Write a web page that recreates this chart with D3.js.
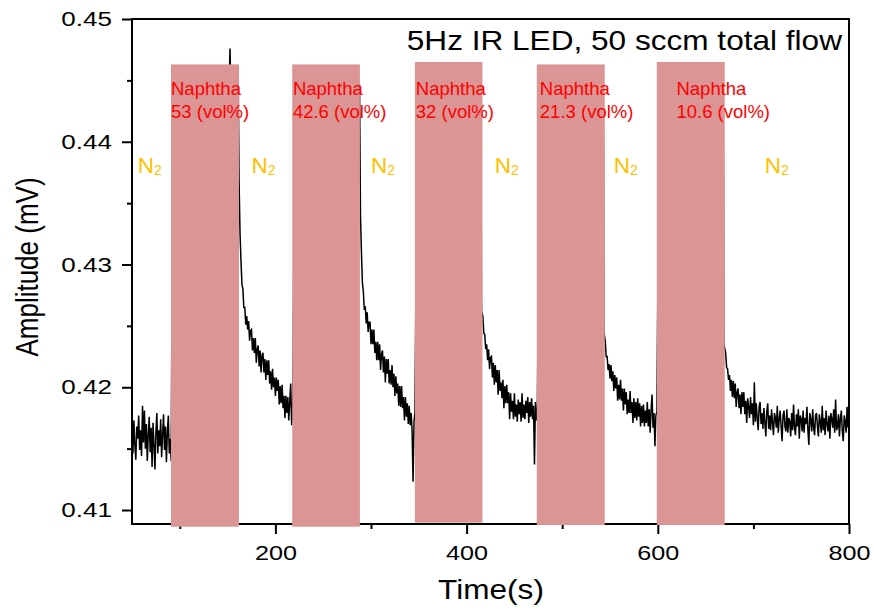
<!DOCTYPE html>
<html>
<head>
<meta charset="utf-8">
<script src="https://cdn.jsdelivr.net/npm/d3@7"></script>
<style>
  body { margin: 0; background: #fff; }
  text { font-family: "Liberation Sans", Arial, sans-serif; }
</style>
</head>
<body>
<svg id="chart" width="874" height="611"></svg>
<script>
// Axis ranges and ticks.
const xDomain = [50, 800];
const yDomain = [0.40886, 0.45];
const xMajor = [200, 400, 600, 800];
const xMinor = [100, 300, 500, 700];
const yMajor = [0.41, 0.42, 0.43, 0.44, 0.45];
const yMinor = [0.415, 0.425, 0.435, 0.445];

// N2 purge segments, one sample per second from each start time.
const purgeStart = [50, 162, 289, 417, 545, 671];
const purge0 = [0.4164, 0.4146, 0.4173, 0.4153, 0.4141, 0.4168, 0.4158, 0.4177, 0.4149, 0.4165,
  0.4144, 0.4185, 0.4155, 0.4181, 0.4150, 0.4170, 0.4140, 0.4161, 0.4176, 0.4147,
  0.4167, 0.4135, 0.4171, 0.4153, 0.4133, 0.4163, 0.4179, 0.4146, 0.4165, 0.4152,
  0.4174, 0.4143, 0.4161, 0.4178, 0.4149, 0.4168, 0.4139, 0.4164, 0.4177, 0.4146,
  0.4158, 0.4140];
const purge1 = [0.4368, 0.4325, 0.4303, 0.4284, 0.4280, 0.4265, 0.4265, 0.4251, 0.4258, 0.4247,
  0.4254, 0.4238, 0.4246, 0.4247, 0.4230, 0.4240, 0.4228, 0.4240, 0.4220, 0.4231,
  0.4234, 0.4217, 0.4230, 0.4212, 0.4226, 0.4228, 0.4212, 0.4223, 0.4206, 0.4222,
  0.4210, 0.4222, 0.4203, 0.4213, 0.4198, 0.4215, 0.4200, 0.4208, 0.4193, 0.4208,
  0.4197, 0.4206, 0.4186, 0.4201, 0.4187, 0.4202, 0.4183, 0.4193, 0.4175, 0.4193,
  0.4179, 0.4192, 0.4173, 0.4188, 0.4203, 0.4169];
const purge2 = [0.4340, 0.4310, 0.4285, 0.4278, 0.4263, 0.4266, 0.4252, 0.4261, 0.4245, 0.4253,
  0.4253, 0.4235, 0.4247, 0.4235, 0.4247, 0.4228, 0.4237, 0.4222, 0.4237, 0.4222,
  0.4235, 0.4214, 0.4227, 0.4230, 0.4212, 0.4225, 0.4204, 0.4223, 0.4211, 0.4223,
  0.4203, 0.4214, 0.4202, 0.4218, 0.4200, 0.4211, 0.4193, 0.4209, 0.4195, 0.4203,
  0.4185, 0.4201, 0.4184, 0.4201, 0.4183, 0.4192, 0.4173, 0.4192, 0.4176, 0.4187,
  0.4170, 0.4185, 0.4169, 0.4179, 0.4164, 0.4123, 0.4172];
const purge3 = [0.4258, 0.4244, 0.4243, 0.4231, 0.4235, 0.4222, 0.4231, 0.4215, 0.4224, 0.4225,
  0.4208, 0.4220, 0.4202, 0.4218, 0.4204, 0.4214, 0.4194, 0.4214, 0.4197, 0.4204,
  0.4191, 0.4206, 0.4183, 0.4201, 0.4187, 0.4202, 0.4187, 0.4196, 0.4174, 0.4195,
  0.4180, 0.4189, 0.4174, 0.4195, 0.4176, 0.4186, 0.4172, 0.4190, 0.4178, 0.4188,
  0.4172, 0.4195, 0.4175, 0.4186, 0.4174, 0.4189, 0.4179, 0.4192, 0.4171, 0.4188,
  0.4176, 0.4191, 0.4174, 0.4185, 0.4137, 0.4188, 0.4173];
const purge4 = [0.4238, 0.4225, 0.4225, 0.4214, 0.4219, 0.4207, 0.4218, 0.4205, 0.4213, 0.4197,
  0.4210, 0.4199, 0.4208, 0.4189, 0.4202, 0.4190, 0.4206, 0.4189, 0.4199, 0.4181,
  0.4199, 0.4186, 0.4196, 0.4178, 0.4190, 0.4179, 0.4197, 0.4179, 0.4188, 0.4171,
  0.4191, 0.4175, 0.4188, 0.4173, 0.4191, 0.4176, 0.4187, 0.4168, 0.4185, 0.4171,
  0.4186, 0.4168, 0.4181, 0.4171, 0.4188, 0.4168, 0.4182, 0.4163, 0.4182, 0.4194,
  0.4167, 0.4179, 0.4152, 0.4177];
const purge5 = [0.4228, 0.4216, 0.4215, 0.4206, 0.4210, 0.4197, 0.4206, 0.4192, 0.4205, 0.4191,
  0.4203, 0.4184, 0.4196, 0.4199, 0.4183, 0.4194, 0.4178, 0.4196, 0.4184, 0.4196,
  0.4178, 0.4189, 0.4171, 0.4191, 0.4184, 0.4175, 0.4192, 0.4178, 0.4187, 0.4169,
  0.4204, 0.4172, 0.4187, 0.4175, 0.4165, 0.4184, 0.4188, 0.4170, 0.4179, 0.4166,
  0.4183, 0.4171, 0.4160, 0.4180, 0.4187, 0.4166, 0.4177, 0.4165, 0.4182, 0.4171,
  0.4161, 0.4179, 0.4175, 0.4167, 0.4185, 0.4163, 0.4174, 0.4181, 0.4168, 0.4156,
  0.4177, 0.4181, 0.4168, 0.4164, 0.4182, 0.4163, 0.4175, 0.4172, 0.4160, 0.4179,
  0.4165, 0.4186, 0.4167, 0.4161, 0.4178, 0.4168, 0.4182, 0.4158, 0.4177, 0.4174,
  0.4164, 0.4181, 0.4163, 0.4175, 0.4170, 0.4184, 0.4165, 0.4153, 0.4179, 0.4174,
  0.4164, 0.4182, 0.4167, 0.4161, 0.4177, 0.4179, 0.4168, 0.4160, 0.4178, 0.4172,
  0.4163, 0.4185, 0.4165, 0.4175, 0.4161, 0.4181, 0.4170, 0.4164, 0.4177, 0.4158,
  0.4179, 0.4174, 0.4167, 0.4182, 0.4163, 0.4190, 0.4165, 0.4168, 0.4178, 0.4160,
  0.4175, 0.4181, 0.4164, 0.4156, 0.4177, 0.4172, 0.4163, 0.4184, 0.4167, 0.4188];
const purgeValues = [purge0, purge1, purge2, purge3, purge4, purge5];

// Signal during naphtha exposure (mostly behind the shaded bars).
const exposureTimes = [
  [92, 94, 98, 105, 115, 125, 135, 145, 152, 152.5, 153, 158, 161],
  [218, 220, 224, 235, 250, 265, 280, 288],
  [346, 348, 352, 365, 380, 395, 410, 415, 415.6],
  [474, 476, 480, 495, 510, 525, 543, 543.6],
  [599, 601, 605, 620, 635, 650, 668.5, 669.1]
];
const exposureValues = [
  [0.4300, 0.4395, 0.4425, 0.4440, 0.4448, 0.4452, 0.4455, 0.4457, 0.4459, 0.4476, 0.4458, 0.4460, 0.4460],
  [0.4180, 0.4370, 0.4415, 0.4435, 0.4442, 0.4445, 0.4446, 0.4446],
  [0.4180, 0.4380, 0.4418, 0.4432, 0.4438, 0.4440, 0.4441, 0.4441, 0.4262],
  [0.4180, 0.4375, 0.4412, 0.4428, 0.4433, 0.4435, 0.4436, 0.4245],
  [0.4180, 0.4365, 0.4405, 0.4420, 0.4425, 0.4427, 0.4428, 0.4235]
];

// Naphtha bars and labels.
const naphthaStart = [90.8, 217.6, 345.9, 473.4, 598.9];
const naphthaEnd = [161.9, 288.4, 416.6, 544.5, 670.0];
const naphthaTop = [0.4463, 0.4463, 0.4465, 0.4463, 0.4465];
const naphthaBottom = [0.40864, 0.40864, 0.40897, 0.40878, 0.40878];
const naphthaConc = ['53', '42.6', '32', '21.3', '10.6'];
const naphthaLabelX = [90.8, 218.3, 346.9, 476.6, 619.5];
const naphthaLabelY = [0.44382, 0.44195];
const n2LabelX = [56.0, 175.1, 299.9, 429.5, 553.9, 711.8];
const n2LabelY = 0.43748;

const margin = {top: 19, right: 25, bottom: 87, left: 132};
const width = 874 - margin.left - margin.right;
const height = 611 - margin.top - margin.bottom;

const xScale = d3.scaleLinear().domain(xDomain).range([0, width]);
const yScale = d3.scaleLinear().domain(yDomain).range([height, 0]);

const svg = d3.select('#chart');
const g = svg.append('g')
    .attr('transform', `translate(${margin.left},${margin.top})`);

// Assemble the time series.
const points = [];
purgeValues.forEach((vals, k) => {
  vals.forEach((v, i) => points.push([purgeStart[k] + i, v]));
  if (k < exposureTimes.length) {
    exposureTimes[k].forEach((t, i) => points.push([t, exposureValues[k][i]]));
  }
});

const line = d3.line()
    .x(d => xScale(d[0]))
    .y(d => yScale(d[1]));
g.append('path')
    .datum(points)
    .attr('fill', 'none')
    .attr('stroke', '#000')
    .attr('stroke-width', 1.5)
    .attr('d', line);

// Frame.
g.append('rect')
    .attr('width', width).attr('height', height)
    .attr('fill', 'none').attr('stroke', '#000').attr('stroke-width', 2);

// Axes.
function styleAxis(sel, sx, shift) {
  sel.select('.domain').remove();
  sel.selectAll('.tick line').attr('stroke-width', 2);
  sel.selectAll('.tick text')
      .attr('fill', '#000')
      .attr('font-size', 21)
      .attr('font-family', '"Liberation Sans", Arial, sans-serif');
  if (shift !== null) {
    sel.selectAll('.tick text').attr('x', 0)
        .attr('transform', `translate(${shift},0) scale(${sx},1)`);
  } else {
    sel.selectAll('.tick text').attr('transform', `scale(${sx},1)`);
  }
}

g.append('g')
    .attr('transform', `translate(0,${height})`)
    .call(d3.axisBottom(xScale).tickValues(xMinor).tickSize(5).tickFormat(''))
    .call(s => { s.select('.domain').remove(); s.selectAll('line').attr('stroke-width', 2); });
g.append('g')
    .attr('transform', `translate(0,${height})`)
    .call(d3.axisBottom(xScale).tickValues(xMajor).tickSize(10).tickPadding(11)
        .tickFormat(d3.format('d')))
    .call(s => styleAxis(s, 1.2, null));

g.append('g')
    .call(d3.axisLeft(yScale).tickValues(yMinor).tickSize(5).tickFormat(''))
    .call(s => { s.select('.domain').remove(); s.selectAll('line').attr('stroke-width', 2); });
g.append('g')
    .call(d3.axisLeft(yScale).tickValues(yMajor).tickSize(10)
        .tickFormat(d3.format('.2f')))
    .call(s => styleAxis(s, 1.24, -20));

// Naphtha bars (drawn over the bottom frame like the original).
g.selectAll('rect.naphtha')
    .data(naphthaStart)
    .join('rect')
    .attr('class', 'naphtha')
    .attr('x', (d, i) => xScale(d))
    .attr('width', (d, i) => xScale(naphthaEnd[i]) - xScale(d))
    .attr('y', (d, i) => yScale(naphthaTop[i]))
    .attr('height', (d, i) => yScale(naphthaBottom[i]) - yScale(naphthaTop[i]))
    .attr('fill', '#da9594');

// Naphtha labels.
naphthaConc.forEach((c, i) => {
  const t = g.append('text')
      .attr('fill', '#ff0000')
      .attr('font-size', 18.5);
  t.append('tspan').attr('x', xScale(naphthaLabelX[i])).attr('y', yScale(naphthaLabelY[0]))
      .text('Naphtha');
  t.append('tspan').attr('x', xScale(naphthaLabelX[i])).attr('y', yScale(naphthaLabelY[1]))
      .text(`${c} (vol%)`);
});

// N2 labels.
n2LabelX.forEach(v => {
  const t = g.append('text')
      .attr('x', xScale(v))
      .attr('y', yScale(n2LabelY))
      .attr('fill', '#ffc000')
      .attr('font-size', 22.5);
  t.append('tspan').text('N');
  t.append('tspan').attr('font-size', 14).attr('dy', 2).text('2');
});

// Title and axis labels.
svg.append('text')
    .attr('transform', 'translate(842,50) scale(1.17,1)')
    .attr('text-anchor', 'end')
    .attr('font-size', 27)
    .text('5Hz IR LED, 50 sccm total flow');

svg.append('text')
    .attr('transform', 'translate(491,599) scale(1.17,1)')
    .attr('text-anchor', 'middle')
    .attr('font-size', 27)
    .text('Time(s)');

svg.append('text')
    .attr('transform', 'translate(38,267) scale(1.2,1) rotate(-90)')
    .attr('text-anchor', 'middle')
    .attr('font-size', 26)
    .text('Amplitude (mV)');
</script>
</body>
</html>
